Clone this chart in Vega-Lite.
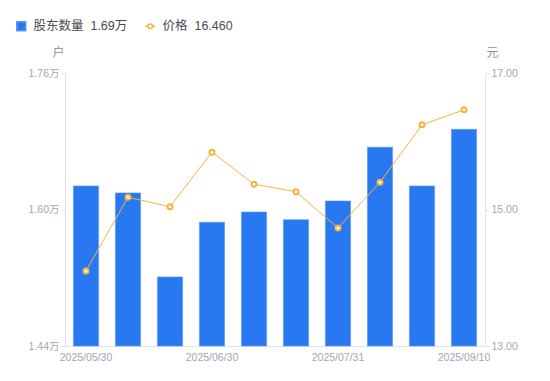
{
  "$schema": "https://vega.github.io/schema/vega-lite/v6.json",
  "width": 420,
  "height": 273,
  "autosize": {"type": "none"},
  "padding": {"left": 65, "top": 73, "right": 65, "bottom": 35},
  "config": {
    "font": "Noto Sans CJK SC",
    "view": {"stroke": null},
    "axis": {"labelColor": "#a3a6b4", "labelFont": "Liberation Sans, Noto Sans CJK SC", "labelFontSize": 10.5, "domainColor": "#e3e3e6", "tickColor": "#e3e3e6", "grid": false, "titleColor": "#8c8f9c", "titleFontWeight": "normal", "titleFontSize": 12},
    "legend": {"labelFont": "Liberation Sans, Noto Sans CJK SC", "labelFontSize": 12.5, "labelColor": "#4a4a55"}
  },
  "data": {
    "values": [
      {"date": "2025/05/30", "holders": 16276, "price": 14.10},
      {"date": "2025/06/10", "holders": 16194, "price": 15.18},
      {"date": "2025/06/20", "holders": 15210, "price": 15.04},
      {"date": "2025/06/30", "holders": 15850, "price": 15.84},
      {"date": "2025/07/10", "holders": 15970, "price": 15.37},
      {"date": "2025/07/20", "holders": 15880, "price": 15.26},
      {"date": "2025/07/31", "holders": 16100, "price": 14.73},
      {"date": "2025/08/20", "holders": 16730, "price": 15.40},
      {"date": "2025/08/29", "holders": 16276, "price": 16.24},
      {"date": "2025/09/10", "holders": 16940, "price": 16.46}
    ]
  },
  "encoding": {
    "x": {
      "field": "date", "type": "ordinal", "sort": null,
      "scale": {"paddingInner": 0.4, "paddingOuter": 0.2},
      "axis": {"title": null, "labelAngle": 0, "ticks": false, "labelPadding": 6,
        "values": ["2025/05/30", "2025/06/30", "2025/07/31", "2025/09/10"]}
    }
  },
  "layer": [
    {
      "mark": {"type": "bar", "color": "#2878f2", "stroke": "#5b98f5", "strokeWidth": 0.6},
      "encoding": {
        "y": {
          "field": "holders", "type": "quantitative",
          "scale": {"domain": [14400, 17600], "zero": false, "nice": false},
          "axis": {"title": "户", "titleAngle": 0, "titleX": -7, "titleY": -14, "titleAlign": "center",
            "values": [14400, 16000, 17600], "tickSize": 4, "labelPadding": 2,
            "labelExpr": "format(datum.value/10000, '.2f') + '万'"}
        },
        "y2": {"datum": 14400},
        "fill": {
          "datum": "股东数量", "type": "nominal",
          "scale": {"range": ["#2878f2"]},
          "legend": {"orient": "none", "legendX": -50, "legendY": -53, "title": null, "symbolType": "square", "symbolSize": 80, "labelOffset": 6, "labelExpr": "datum.label + '\u00a0\u00a01.69万'"}
        }
      }
    },
    {
      "mark": {"type": "line", "color": "#f6b33b", "strokeWidth": 1},
      "encoding": {
        "y": {
          "field": "price", "type": "quantitative",
          "scale": {"domain": [13, 17], "zero": false, "nice": false},
          "axis": {"orient": "right", "title": "元", "titleAngle": 0, "titleX": 7, "titleY": -14, "titleAlign": "center",
            "values": [13, 15, 17], "tickSize": 4, "labelPadding": 2, "format": ".2f"}
        },
        "stroke": {
          "datum": "价格", "type": "nominal",
          "scale": {"range": ["#f6b33b"]},
          "legend": {"orient": "none", "legendX": 79, "legendY": -53, "title": null,
            "symbolType": "M-1,0L-0.45,0M0.45,0L1,0M0.45,0A0.45,0.45 0 1,1 -0.45,0A0.45,0.45 0 1,1 0.45,0Z",
            "symbolFillColor": "#ffffff", "symbolStrokeWidth": 1.5, "symbolSize": 100, "labelOffset": 6,
            "labelExpr": "datum.label + '\u00a0\u00a016.460'"}
        }
      }
    },
    {
      "mark": {"type": "point", "shape": "circle", "filled": true, "fill": "#ffffff", "stroke": "#f6b33b", "strokeWidth": 2, "size": 25, "opacity": 1},
      "encoding": {
        "y": {"field": "price", "type": "quantitative", "scale": {"domain": [13, 17], "zero": false, "nice": false}, "axis": null}
      }
    }
  ],
  "resolve": {"scale": {"y": "independent", "fill": "independent", "stroke": "independent"}}
}
